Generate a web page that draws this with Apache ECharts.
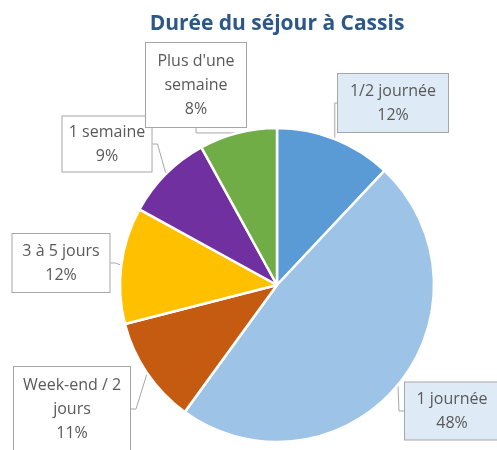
<!DOCTYPE html>
<html>
<head>
<meta charset="utf-8">
<script src="https://cdn.jsdelivr.net/npm/echarts@6/dist/echarts.min.js"></script>
<style>
  html, body { margin: 0; padding: 0; background: #fff; }
  #chart { width: 497px; height: 450px; }
</style>
</head>
<body>
<div id="chart"></div>
<script>
// catégories et parts (%)
const categories = ['1/2 journée', '1 journée', 'Week-end / 2\njours', '3 à 5 jours', '1 semaine', "Plus d'une\nsemaine"]
const values = [12, 48, 11, 12, 9, 8]
const colors = ['#5b9bd5', '#9dc3e6', '#c55a11', '#ffc000', '#7030a0', '#70ad47']

// emplacement des bulles (centre) et taille
const boxCenters = [[393, 103], [452, 411], [72, 409], [61, 263], [107, 144], [196, 85]]
const boxSizes = [[110, 58], [94, 57], [116, 84], [97, 58], [89, 55], [100, 84]]
const boxFills = ['#deebf7', '#deebf7', '#fff', '#fff', '#fff', '#fff']

const chart = echarts.init(document.getElementById('chart'))

const option = {
  title: {
    text: 'Durée du séjour à Cassis',
    left: 272,
    top: 9,
    textAlign: 'center',
    textStyle: {
      fontFamily: 'Open Sans',
      fontSize: 21,
      fontWeight: 'bold',
      color: '#2b5886'
    }
  },
  series: [{
    type: 'pie',
    center: [277, 285],
    radius: 157,
    startAngle: 90,
    clockwise: true,
    avoidLabelOverlap: false,
    itemStyle: {
      borderColor: '#fff',
      borderWidth: 2.5
    },
    label: {
      show: true,
      formatter: '{b}\n{d}%',
      fontFamily: 'Open Sans',
      fontSize: 16,
      lineHeight: 24,
      color: '#595959',
      align: 'center',
      verticalAlign: 'middle',
      borderColor: '#a6a6a6',
      borderWidth: 1,
      padding: 0
    },
    labelLine: {
      show: true,
      length: 10,
      length2: 5,
      lineStyle: { color: '#a6a6a6', width: 1 }
    },
    labelLayout: function (params) {
      const i = params.dataIndex
      return {
        x: boxCenters[i][0],
        y: boxCenters[i][1],
        align: 'center',
        verticalAlign: 'middle',
        moveOverlap: false
      }
    },
    emphasis: { disabled: true },
    data: categories.map(function (name, i) {
      return {
        name: name,
        value: values[i],
        itemStyle: { color: colors[i] },
        label: {
          width: boxSizes[i][0],
          height: boxSizes[i][1],
          backgroundColor: boxFills[i]
        }
      }
    })
  }]
}

chart.setOption(option)
</script>
</body>
</html>
